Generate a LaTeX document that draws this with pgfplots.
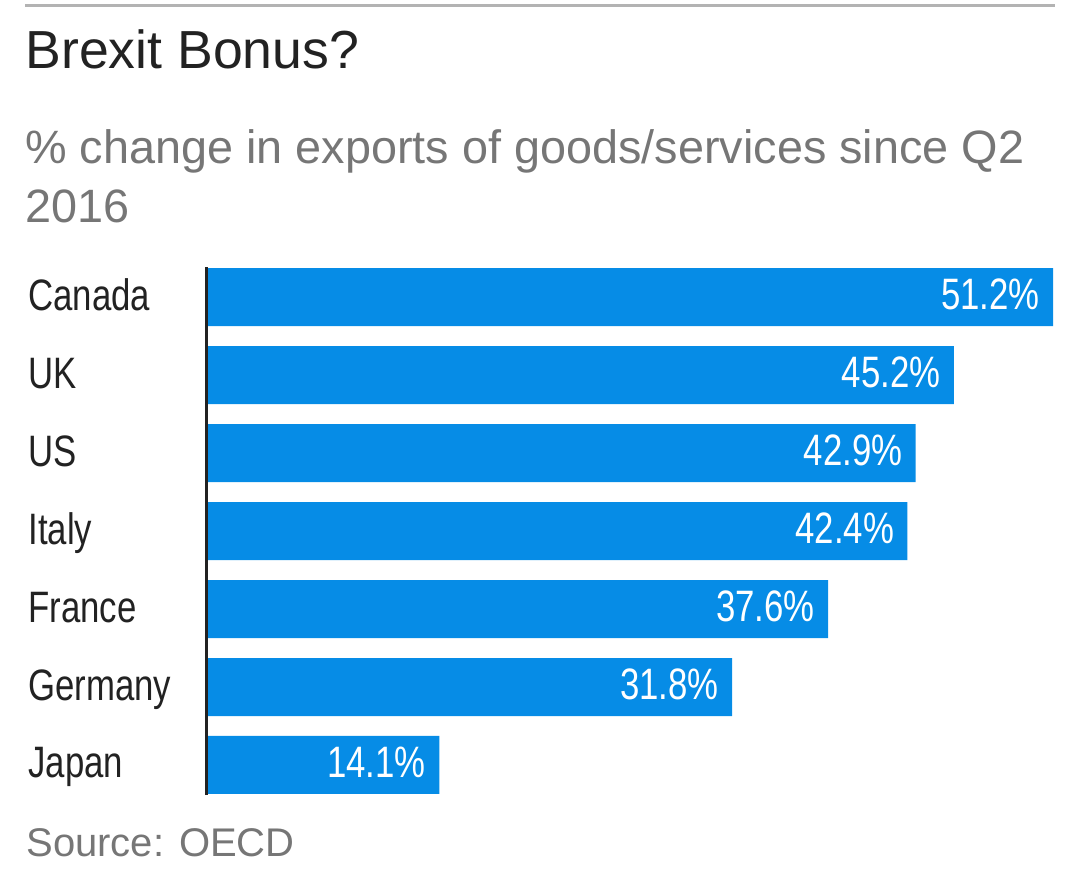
\documentclass[border=0pt]{standalone}
\usepackage{pgfplots}
\pgfplotsset{compat=1.18}
\usepackage{fontspec}
\setmainfont{Liberation Sans}
\newfontfamily\condfont[FakeStretch=0.79]{Liberation Sans}
\definecolor{barblue}{HTML}{068CE6}
\definecolor{inkdark}{HTML}{222222}
\definecolor{subgray}{HTML}{767676}
\definecolor{rulegray}{HTML}{B3B3B3}

\begin{document}
\begin{tikzpicture}
% page frame: 1080 x 869 px at 0.5pt per px, origin top-left
\useasboundingbox (0pt,0pt) rectangle (540pt,-434.5pt);

\draw[rulegray, line width=1.5pt] (12.5pt,-2.5pt) -- (527.5pt,-2.5pt);

\node[anchor=base west, inner sep=0pt, text=inkdark,
      font=\fontsize{26.8}{30}\selectfont] at (12.5pt,-34pt) {Brexit Bonus?};
\node[anchor=base west, inner sep=0pt, text=subgray,
      font=\fontsize{23.4}{27}\selectfont] at (12.5pt,-81.5pt)
      {\% change in exports of goods/services since Q2};
\node[anchor=base west, inner sep=0pt, text=subgray,
      font=\fontsize{23.4}{27}\selectfont] at (12.5pt,-111pt) {2016};
\node[anchor=base west, inner sep=0pt, text=subgray,
      font=\fontsize{20}{24}\selectfont] at (13pt,-428pt) {Source: OECD};

\begin{axis}[
  at={(103pt,-397.5pt)}, anchor=south west,
  scale only axis,
  width=423.5pt, height=264pt,
  xmin=0, xmax=51.2,
  ymin=-0.385, ymax=6.385,
  axis line style={draw=none},
  xtick=\empty,
  ytick={0,1,2,3,4,5,6},
  yticklabels={Japan,Germany,France,Italy,US,UK,Canada},
  major tick length=0pt,
  yticklabel style={anchor=base west, inner sep=0pt, xshift=-89pt, yshift=-6.5pt,
                    text=inkdark, font=\condfont\fontsize{22}{24}\selectfont},
  xbar, bar width=29pt,
  clip=false,
  point meta=x,
  nodes near coords={\pgfmathprintnumber[fixed,fixed zerofill,precision=1,assume math mode=true]{\pgfplotspointmeta}\%},
  nodes near coords style={anchor=east, inner sep=0pt, xshift=-6.5pt, yshift=1.5pt,
                           text=white, font=\condfont\fontsize{22}{24}\selectfont},
]
\addplot[fill=barblue, draw=none] coordinates {
  (14.1,0) (31.8,1) (37.6,2) (42.4,3) (42.9,4) (45.2,5) (51.2,6)
};
\draw[inkdark, line width=1.5pt] (axis cs:0,-0.385) -- (axis cs:0,6.385);
\end{axis}
\end{tikzpicture}
\end{document}
